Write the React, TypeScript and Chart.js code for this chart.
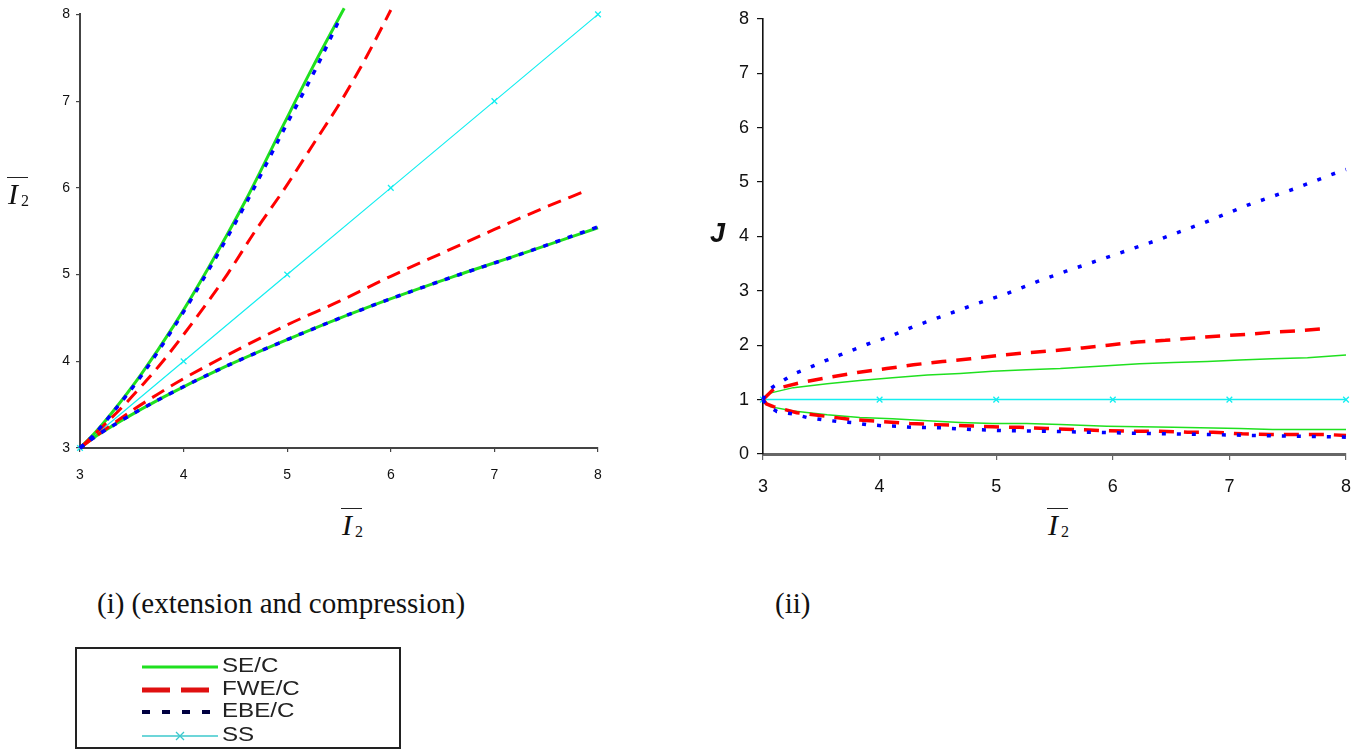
import React, { useEffect, useRef } from 'react';
import { Chart, registerables } from 'chart.js';

Chart.register(...registerables);
Chart.defaults.font.family = '"Liberation Sans", Arial, sans-serif';

// Series names (legend order)
const seriesNames = ['SE/C', 'FWE/C', 'EBE/C', 'SS'];
const seriesColors = ['#1fe01f', '#ff0000', '#0000ff', '#14eef0'];
const legendEbeColor = '#000040';

// Shared x range and tick step
const xMin = 3;
const xMax = 8;
const xStep = 1;

// (i) extension and compression: upper branch = compression, lower branch = extension
const leftSeUpperX = [3, 3.14, 3.31, 3.59, 3.91, 4.25, 4.61, 4.97, 5.25, 5.55];
const leftSeUpperY = [3, 3.17, 3.41, 3.85, 4.42, 5.1, 5.88, 6.74, 7.4, 8.07];
const leftSeLowerX = [3, 3.16, 3.39, 3.81, 4.35, 5, 5.75, 6.59, 7.29, 8];
const leftSeLowerY = [3, 3.14, 3.31, 3.59, 3.91, 4.25, 4.61, 4.97, 5.25, 5.54];

const leftFweUpperX = [3, 3.22, 3.43, 3.62, 3.8, 4.12, 4.42, 4.69, 4.98, 5.25, 5.52, 5.76, 6.0];
const leftFweUpperY = [3, 3.25, 3.5, 3.75, 4, 4.5, 5, 5.5, 6, 6.5, 7, 7.5, 8.05];
const leftFweLowerX = [3, 3.25, 3.5, 3.75, 4, 4.5, 5, 5.5, 6, 6.5, 7, 7.5, 7.85];
const leftFweLowerY = [3, 3.22, 3.43, 3.62, 3.8, 4.12, 4.42, 4.69, 4.98, 5.25, 5.52, 5.78, 5.95];

const leftEbeUpperX = [3, 3.14, 3.31, 3.59, 3.91, 4.25, 4.61, 4.98, 5.27, 5.52];
const leftEbeUpperY = [3, 3.16, 3.4, 3.83, 4.4, 5.07, 5.84, 6.7, 7.36, 7.98];
const leftEbeLowerX = [3, 3.16, 3.39, 3.81, 4.35, 5, 5.75, 6.59, 7.29, 8];
const leftEbeLowerY = [3, 3.14, 3.31, 3.59, 3.91, 4.25, 4.61, 4.97, 5.25, 5.55];

const leftSsX = [3, 4, 5, 6, 7, 8];
const leftSsY = [3, 4, 5, 6, 7, 8];

// (ii) J against the invariant
const rightSeUpperX = [3, 3.06, 3.26, 3.55, 3.83, 4.11, 4.41, 4.69, 4.97, 5.26, 5.55, 5.95, 6.23, 6.52, 6.81, 7.09, 7.37, 7.67, 8.0];
const rightSeUpperY = [1, 1.12, 1.22, 1.29, 1.35, 1.4, 1.45, 1.48, 1.52, 1.55, 1.57, 1.62, 1.66, 1.68, 1.7, 1.73, 1.75, 1.77, 1.82];
const rightSeLowerX = [3, 3.06, 3.26, 3.55, 3.83, 4.11, 4.41, 4.69, 4.97, 5.26, 5.55, 5.95, 6.52, 7.09, 7.37, 8.0];
const rightSeLowerY = [1, 0.87, 0.79, 0.72, 0.67, 0.65, 0.61, 0.58, 0.56, 0.56, 0.54, 0.51, 0.49, 0.47, 0.45, 0.45];

const rightFweUpperX = [3, 3.09, 3.34, 3.57, 3.81, 4.06, 4.29, 4.54, 4.78, 5.02, 5.26, 5.49, 5.74, 5.96, 6.21, 6.45, 6.68, 6.92, 7.16, 7.37, 7.62, 7.85];
const rightFweUpperY = [1, 1.19, 1.32, 1.41, 1.5, 1.57, 1.64, 1.7, 1.75, 1.81, 1.86, 1.9, 1.95, 2.0, 2.06, 2.09, 2.13, 2.17, 2.2, 2.24, 2.27, 2.31];
const rightFweLowerX = [3, 3.03, 3.09, 3.29, 3.55, 3.77, 4.0, 4.26, 4.49, 4.73, 4.97, 5.2, 5.43, 5.68, 5.92, 6.15, 6.39, 6.64, 6.86, 7.11, 7.35, 7.58, 7.82, 8.0];
const rightFweLowerY = [1, 0.92, 0.87, 0.76, 0.69, 0.63, 0.6, 0.56, 0.54, 0.52, 0.5, 0.49, 0.47, 0.45, 0.43, 0.42, 0.42, 0.4, 0.4, 0.37, 0.36, 0.36, 0.36, 0.34];

const rightEbeUpperX = [3, 3.03, 3.15, 3.27, 3.4, 3.53, 3.66, 3.79, 3.92, 4.05, 4.3, 4.56, 4.83, 5.08, 5.34, 5.6, 6.0, 6.38, 6.77, 7.15, 7.55, 7.93, 8.0];
const rightEbeUpperY = [1, 1.16, 1.32, 1.48, 1.59, 1.71, 1.82, 1.93, 2.04, 2.13, 2.35, 2.55, 2.76, 2.94, 3.16, 3.36, 3.65, 3.93, 4.24, 4.57, 4.87, 5.18, 5.23];
const rightEbeLowerX = [3, 3.02, 3.12, 3.25, 3.38, 3.51, 3.63, 3.76, 3.89, 4.02, 4.15, 4.28, 4.54, 4.79, 5.06, 5.32, 5.6, 6.0, 6.5, 7.0, 7.5, 8.0];
const rightEbeLowerY = [1, 0.92, 0.78, 0.74, 0.67, 0.63, 0.6, 0.58, 0.54, 0.52, 0.51, 0.49, 0.48, 0.45, 0.43, 0.42, 0.41, 0.39, 0.37, 0.35, 0.33, 0.31];

const rightSsX = [3, 4, 5, 6, 7, 8];
const rightSsY = [1, 1, 1, 1, 1, 1];

const leftYMin = 3;
const leftYMax = 8;
const rightYMin = 0;
const rightYMax = 8;

const zip = (xs: number[], ys: number[]) => xs.map((x, i) => ({ x, y: ys[i] }));

type Style = { width: number; dash: number[]; smooth: boolean };

function curve(data: { x: number; y: number }[], color: string, style: Style, order: number) {
  return {
    data,
    borderColor: color,
    backgroundColor: color,
    borderWidth: style.width,
    borderDash: style.dash,
    pointRadius: 0,
    fill: false,
    clip: false as const,
    tension: 0,
    cubicInterpolationMode: style.smooth ? ('monotone' as const) : ('default' as const),
    order,
  };
}

function ssCurve(data: { x: number; y: number }[], width: number) {
  return {
    data,
    borderColor: seriesColors[3],
    backgroundColor: seriesColors[3],
    borderWidth: width,
    pointStyle: 'crossRot' as const,
    pointRadius: 4,
    pointBorderWidth: 1.3,
    pointBorderColor: seriesColors[3],
    clip: false as const,
    order: 5,
  };
}

function axes(opts: {
  yMin: number; yMax: number; yWidth: number; xHeight: number; fontSize: number;
  xColor: string; xBorder: number; yColor: string; yBorder: number;
  xTick: number; yTick: number; xPad: number; yPad: number;
}) {
  const font = { family: '"Liberation Sans", Arial, sans-serif', size: opts.fontSize };
  return {
    x: {
      type: 'linear' as const,
      min: xMin,
      max: xMax,
      afterFit: (s: any) => { s.height = opts.xHeight; },
      ticks: { stepSize: xStep, font, color: '#111', padding: opts.xPad, maxRotation: 0 },
      grid: { drawOnChartArea: false, tickLength: opts.xTick, color: opts.xColor, lineWidth: 1.2 },
      border: { color: opts.xColor, width: opts.xBorder },
    },
    y: {
      type: 'linear' as const,
      min: opts.yMin,
      max: opts.yMax,
      afterFit: (s: any) => { s.width = opts.yWidth; },
      ticks: { stepSize: 1, font, color: '#111', padding: opts.yPad },
      grid: { drawOnChartArea: false, tickLength: opts.yTick, color: opts.yColor, lineWidth: 1.2 },
      border: { color: opts.yColor, width: opts.yBorder },
    },
  };
}

function useChart(ref: React.RefObject<HTMLCanvasElement | null>, build: () => any) {
  useEffect(() => {
    if (!ref.current) return;
    const chart = new Chart(ref.current, build());
    return () => chart.destroy();
  }, []);
}

function LeftChart() {
  const ref = useRef<HTMLCanvasElement | null>(null);
  useChart(ref, () => ({
    type: 'line',
    data: {
      datasets: [
        curve(zip(leftEbeUpperX, leftEbeUpperY), seriesColors[2], { width: 3.5, dash: [5, 8], smooth: true }, 0),
        curve(zip(leftEbeLowerX, leftEbeLowerY), seriesColors[2], { width: 3.5, dash: [5, 8], smooth: true }, 0),
        curve(zip(leftFweUpperX, leftFweUpperY), seriesColors[1], { width: 3, dash: [14, 8], smooth: true }, 1),
        curve(zip(leftFweLowerX, leftFweLowerY), seriesColors[1], { width: 3, dash: [14, 8], smooth: true }, 1),
        curve(zip(leftSeUpperX, leftSeUpperY), seriesColors[0], { width: 3, dash: [], smooth: true }, 2),
        curve(zip(leftSeLowerX, leftSeLowerY), seriesColors[0], { width: 3, dash: [], smooth: true }, 2),
        ssCurve(zip(leftSsX, leftSsY), 1.2),
      ],
    },
    options: {
      responsive: false,
      animation: false,
      events: [],
      layout: { padding: { top: 11, right: 22, left: 0, bottom: 0 } },
      plugins: { legend: { display: false }, tooltip: { enabled: false } },
      scales: axes({
        yMin: leftYMin, yMax: leftYMax, yWidth: 80, xHeight: 52, fontSize: 14,
        xColor: '#444', xBorder: 2, yColor: '#444', yBorder: 2,
        xTick: 4, yTick: 4, xPad: 15, yPad: 6,
      }),
    },
  }));
  return <canvas ref={ref} width={620} height={500} style={{ position: 'absolute', left: 0, top: 0, width: 620, height: 500 }} />;
}

function RightChart() {
  const ref = useRef<HTMLCanvasElement | null>(null);
  useChart(ref, () => ({
    type: 'line',
    data: {
      datasets: [
        curve(zip(rightEbeUpperX, rightEbeUpperY), seriesColors[2], { width: 3.5, dash: [4, 11], smooth: false }, 0),
        curve(zip(rightEbeLowerX, rightEbeLowerY), seriesColors[2], { width: 3.5, dash: [4, 11], smooth: false }, 0),
        curve(zip(rightFweUpperX, rightFweUpperY), seriesColors[1], { width: 3.5, dash: [15, 10], smooth: false }, 1),
        curve(zip(rightFweLowerX, rightFweLowerY), seriesColors[1], { width: 3.5, dash: [15, 10], smooth: false }, 1),
        curve(zip(rightSeUpperX, rightSeUpperY), seriesColors[0], { width: 1.5, dash: [], smooth: false }, 2),
        curve(zip(rightSeLowerX, rightSeLowerY), seriesColors[0], { width: 1.5, dash: [], smooth: false }, 2),
        ssCurve(zip(rightSsX, rightSsY), 1.5),
      ],
    },
    options: {
      responsive: false,
      animation: false,
      events: [],
      layout: { padding: { top: 11, right: 24, left: 0, bottom: 0 } },
      plugins: { legend: { display: false }, tooltip: { enabled: false } },
      scales: axes({
        yMin: rightYMin, yMax: rightYMax, yWidth: 73, xHeight: 46, fontSize: 18,
        xColor: '#666', xBorder: 3, yColor: '#111', yBorder: 1.6,
        xTick: 6, yTick: 6, xPad: 16, yPad: 8,
      }),
    },
  }));
  return <canvas ref={ref} width={680} height={500} style={{ position: 'absolute', left: 690, top: 0, width: 680, height: 500 }} />;
}

// Overlined italic I with subscript 2; (left, top) is the start of the overline
function BarI2({ left, top }: { left: number; top: number }) {
  const serif = '"Liberation Serif", "Times New Roman", serif';
  return (
    <>
      <div style={{ position: 'absolute', left, top, width: 21, height: 1.4, background: '#222' }} />
      <div style={{ position: 'absolute', left: left + 1, top: top + 2, fontFamily: serif, fontStyle: 'italic', fontSize: 30, lineHeight: 1, color: '#111' }}>I</div>
      <div style={{ position: 'absolute', left: left + 14, top: top + 16, fontFamily: serif, fontSize: 16, lineHeight: 1, color: '#111' }}>2</div>
    </>
  );
}

function LegendSample({ index }: { index: number }) {
  const w = 76;
  const h = 12;
  const mid = h / 2;
  if (index === 0) {
    return <svg width={w} height={h}><line x1={0} y1={mid} x2={w} y2={mid} stroke={seriesColors[0]} strokeWidth={3} /></svg>;
  }
  if (index === 1) {
    return <svg width={w} height={h}><line x1={0} y1={mid} x2={w} y2={mid} stroke="#e01010" strokeWidth={5} strokeDasharray="28 11" /></svg>;
  }
  if (index === 2) {
    return <svg width={w} height={h}><line x1={0} y1={mid} x2={w} y2={mid} stroke={legendEbeColor} strokeWidth={4} strokeDasharray="8 12" /></svg>;
  }
  return (
    <svg width={w} height={h}>
      <line x1={0} y1={mid} x2={w} y2={mid} stroke="#3cc8cc" strokeWidth={1.5} />
      <line x1={w / 2 - 4} y1={mid - 4} x2={w / 2 + 4} y2={mid + 4} stroke="#3cc8cc" strokeWidth={1.2} />
      <line x1={w / 2 - 4} y1={mid + 4} x2={w / 2 + 4} y2={mid - 4} stroke="#3cc8cc" strokeWidth={1.2} />
    </svg>
  );
}

function Legend() {
  const rows = [665, 688, 710, 734];
  return (
    <div style={{ position: 'absolute', left: 75, top: 647, width: 326, height: 102, border: '2px solid #222', boxSizing: 'border-box', filter: 'blur(0.5px)' }}>
      {seriesNames.map((name, i) => (
        <React.Fragment key={name}>
          <div style={{ position: 'absolute', left: 142 - 77, top: rows[i] - 649 - 6 }}>
            <LegendSample index={i} />
          </div>
          <div style={{ position: 'absolute', left: 222 - 77, top: rows[i] - 649 - 12, fontFamily: '"Liberation Sans", Arial, sans-serif', fontSize: 21, lineHeight: '24px', color: '#222', transform: 'scaleX(1.15)', transformOrigin: 'left center' }}>{name}</div>
        </React.Fragment>
      ))}
    </div>
  );
}

export default function App() {
  const serif = '"Liberation Serif", "Times New Roman", serif';
  return (
    <div style={{ position: 'fixed', left: 0, top: 0, width: 1370, height: 751, background: '#fff', overflow: 'hidden' }}>
      <LeftChart />
      <RightChart />
      <BarI2 left={7} top={177} />
      <BarI2 left={341} top={508} />
      <BarI2 left={1047} top={508} />
      <div style={{ position: 'absolute', left: 710, top: 220, fontFamily: '"Liberation Sans", Arial, sans-serif', fontWeight: 'bold', fontStyle: 'italic', fontSize: 27, lineHeight: 1, color: '#111' }}>J</div>
      <div style={{ position: 'absolute', left: 97, top: 589, fontFamily: serif, fontSize: 29, lineHeight: 1, color: '#111', whiteSpace: 'nowrap' }}>(i) (extension and compression)</div>
      <div style={{ position: 'absolute', left: 775, top: 589, fontFamily: serif, fontSize: 29, lineHeight: 1, color: '#111' }}>(ii)</div>
      <Legend />
    </div>
  );
}
